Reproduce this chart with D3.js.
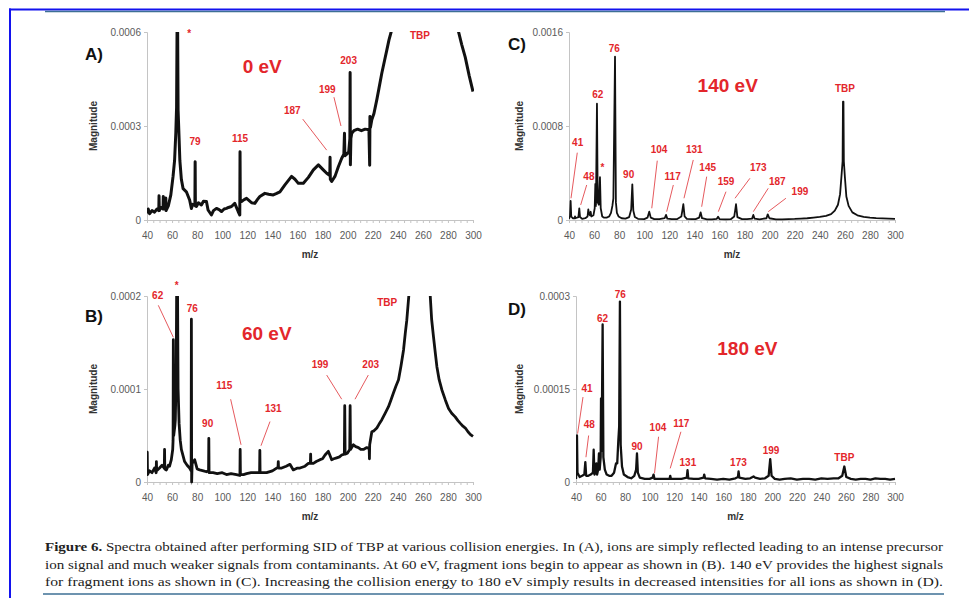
<!DOCTYPE html>
<html><head><meta charset="utf-8">
<script src="https://cdn.jsdelivr.net/npm/d3@7"></script>
<style>body{margin:0;background:#fff}svg{display:block}</style>
</head><body>
<svg id="c" width="969" height="598"></svg>
<script>
// ---------- DATA ----------
const mzTickLabels = [40,60,80,100,120,140,160,180,200,220,240,260,280,300];
const mzMinorTicks = d3.range(40, 301, 5);

const yTicksA = [0, 0.0003, 0.0006];
const yTicksB = [0, 0.0001, 0.0002];
const yTicksC = [0, 0.0008, 0.0016];
const yTicksD = [0, 0.00015, 0.0003];

// Spectrum A (0 eV): [m/z, magnitude]
const spectrumA = [
[40,0.21e-4],[41,0.35e-4],[42,0.2e-4],[44,0.3e-4],[46,0.25e-4],[48,0.35e-4],[49.4,0.3e-4],[49.6,0.77e-4],[49.8,0.3e-4],
[51,0.4e-4],[52.8,0.35e-4],[53,0.75e-4],[53.2,0.35e-4],[54.8,0.4e-4],[55,0.7e-4],[55.2,0.3e-4],[57,0.45e-4],[59,0.8e-4],
[60.8,1.4e-4],[62,1.9e-4],[63,2.8e-4],[63.6,3.6e-4],[64,6.3e-4],[64.4,6.3e-4],[64.8,3.5e-4],[65.6,2.6e-4],[66.2,1.9e-4],
[67.4,1.3e-4],[68.8,1.0e-4],[71.4,0.9e-4],[74,0.64e-4],[75.4,0.37e-4],[76.5,0.5e-4],[77.5,0.48e-4],[78.2,0.5e-4],
[78.4,1.86e-4],[78.6,0.45e-4],[79.4,0.43e-4],[81,0.55e-4],[83.4,0.48e-4],[85,0.6e-4],[87.4,0.59e-4],[88.7,0.32e-4],
[91.4,0.16e-4],[93,0.3e-4],[95.4,0.37e-4],[97.5,0.33e-4],[99.4,0.27e-4],[101.5,0.35e-4],[103.4,0.37e-4],[105,0.4e-4],
[107.4,0.43e-4],[110,0.53e-4],[112.7,0.27e-4],[114,0.16e-4],[114.2,2.18e-4],[114.4,0.59e-4],[115.4,0.59e-4],
[117.5,0.65e-4],[119.4,0.69e-4],[121.5,0.62e-4],[123.4,0.55e-4],[126,0.53e-4],[128,0.65e-4],[130,0.75e-4],[134,0.85e-4],
[137,0.82e-4],[140.7,0.8e-4],[143,0.84e-4],[146,0.9e-4],[150,1.12e-4],[155.3,1.39e-4],[158,1.3e-4],[160.7,1.17e-4],
[164.7,1.17e-4],[168.7,1.36e-4],[172.7,1.6e-4],[176.7,1.76e-4],[180.6,1.6e-4],[183.3,1.49e-4],[185.8,1.42e-4],
[186,2.0e-4],[186.2,1.3e-4],[187.3,1.23e-4],[190,1.4e-4],[192.6,1.7e-4],[195.3,1.97e-4],[197,2.1e-4],[197.5,2.77e-4],
[197.8,2.05e-4],[199.3,2.1e-4],[200.9,2.18e-4],[201.8,2.6e-4],[202,4.71e-4],[202.2,1.76e-4],[202.6,2.6e-4],
[203.3,2.77e-4],[205,2.85e-4],[208,2.9e-4],[211,2.85e-4],[214,2.9e-4],[217,2.88e-4],[217.6,1.75e-4],[217.8,3.3e-4],
[218.2,2.95e-4],[219.3,3.2e-4],[221,3.4e-4],[223.3,3.84e-4],[225,4.2e-4],[227.3,4.69e-4],[229.5,5.1e-4],[231.3,5.43e-4],
[233,5.75e-4],[234.7,6.0e-4],[237,6.8e-4],[245,12e-4],[255,40e-4],[260,60e-4],[265,40e-4],[280,10e-4],[286,6.8e-4],
[288.5,6.0e-4],[291,5.6e-4],[293.8,5.2e-4],[297,4.6e-4],[300,4.1e-4]
];

// Spectrum B (60 eV)
const spectrumB = [
[40,0.08e-4],[40.2,0.32e-4],[40.4,0.08e-4],[42,0.12e-4],[44,0.1e-4],[46,0.15e-4],[47.3,0.1e-4],[47.5,0.22e-4],[47.7,0.12e-4],
[50,0.15e-4],[52,0.18e-4],[53.8,0.15e-4],[54,0.35e-4],[54.2,0.14e-4],[55.5,0.13e-4],[57,0.18e-4],[58,0.17e-4],[59.4,0.24e-4],
[60.5,0.35e-4],[60.8,0.45e-4],[61,1.53e-4],[61.3,0.5e-4],[62.2,0.6e-4],[62.6,0.67e-4],[63.3,1.2e-4],[63.7,2.2e-4],
[64.3,2.2e-4],[64.8,1.0e-4],[65.6,0.63e-4],[66.5,0.45e-4],[67.4,0.35e-4],[70,0.22e-4],[72,0.18e-4],[74,0.15e-4],
[75.2,0.12e-4],[75.4,1.75e-4],[75.6,0],[76,0.2e-4],[78,0.24e-4],[80,0.14e-4],[82,0.13e-4],[85,0.12e-4],[87.4,0.11e-4],
[89.1,0.12e-4],[89.3,0.47e-4],[89.5,0.1e-4],[92.7,0.1e-4],[96,0.09e-4],[100,0.1e-4],[103.4,0.08e-4],[107,0.09e-4],
[111.4,0.08e-4],[114.1,0.07e-4],[114.3,0.35e-4],[114.5,0.08e-4],[117,0.08e-4],[119.4,0.09e-4],[123,0.1e-4],[127,0.1e-4],
[129.8,0.1e-4],[130,0.34e-4],[130.2,0.1e-4],[135.4,0.1e-4],[140,0.12e-4],[143.4,0.15e-4],[144.5,0.16e-4],[144.7,0.22e-4],
[144.9,0.15e-4],[147.4,0.15e-4],[151,0.17e-4],[154,0.19e-4],[156.7,0.13e-4],[160,0.15e-4],[162,0.15e-4],[166,0.17e-4],
[168.7,0.2e-4],[170.3,0.2e-4],[170.5,0.3e-4],[170.7,0.2e-4],[172.7,0.2e-4],[175,0.22e-4],[178,0.24e-4],[180,0.25e-4],
[182,0.29e-4],[184.6,0.33e-4],[187.3,0.24e-4],[189,0.25e-4],[191.3,0.26e-4],[193.5,0.27e-4],[195.3,0.29e-4],
[197.4,0.3e-4],[197.7,0.82e-4],[198,0.3e-4],[199.8,0.31e-4],[201.7,0.35e-4],[202,0.82e-4],[202.3,0.35e-4],
[204.6,0.4e-4],[206.5,0.38e-4],[208.6,0.37e-4],[210.5,0.35e-4],[212.6,0.35e-4],[215.3,0.37e-4],[217.2,0.36e-4],
[217.4,0.25e-4],[217.6,0.4e-4],[219.3,0.54e-4],[221,0.55e-4],[223.3,0.58e-4],[225,0.62e-4],[227.3,0.67e-4],[230,0.74e-4],
[232.6,0.81e-4],[234.5,0.88e-4],[236.6,0.96e-4],[238.5,1.03e-4],[240.6,1.1e-4],[242.6,1.25e-4],[244.6,1.42e-4],
[246,1.6e-4],[247.2,1.74e-4],[248.8,2.0e-4],[251,2.8e-4],[254,5e-4],[257.5,20e-4],[261,5e-4],[264,2.8e-4],[265.9,2.0e-4],
[267,1.75e-4],[268.5,1.56e-4],[270,1.38e-4],[271.2,1.24e-4],[273,1.1e-4],[275.2,0.99e-4],[278,0.88e-4],[280.5,0.79e-4],
[283,0.74e-4],[285.8,0.7e-4],[288,0.66e-4],[289.9,0.63e-4],[292,0.6e-4],[293.9,0.58e-4],[296,0.54e-4],[298,0.51e-4],
[300,0.49e-4]
];

// Spectrum C (140 eV)
const spectrumC = [
[40,0.1e-4],[40.8,0.3e-4],[41.3,1.62e-4],[41.8,0.3e-4],[43,0.15e-4],[44.6,0.15e-4],[44.8,0.3e-4],[45,0.15e-4],
[47.5,0.25e-4],[48.2,0.99e-4],[48.8,0.25e-4],[50.5,0.1e-4],[53,0.15e-4],[54.8,0.3e-4],[55.4,0.9e-4],[56,0.5e-4],
[56.8,0.4e-4],[57.3,0.7e-4],[57.8,0.3e-4],[59.5,0.4e-4],[60.5,1.0e-4],[61,3.07e-4],[61.5,1.2e-4],[62.3,9.9e-4],
[62.9,1.5e-4],[63.8,1.3e-4],[64.7,3.64e-4],[65.3,1.0e-4],[66.5,0.3e-4],[68,0.2e-4],[70,0.2e-4],[72,0.3e-4],[73.5,0.6e-4],
[74.6,1.2e-4],[75.4,1.85e-4],[76.7,13.9e-4],[77.4,1.5e-4],[78.2,0.6e-4],[79.5,0.3e-4],[82,0.15e-4],[85,0.12e-4],
[88,0.25e-4],[89.6,0.9e-4],[90.5,3.04e-4],[91.3,0.8e-4],[92.5,0.25e-4],[95,0.1e-4],[100,0.08e-4],[102.6,0.2e-4],
[104,0.71e-4],[105.2,0.2e-4],[108,0.07e-4],[112,0.07e-4],[116.3,0.15e-4],[117.4,0.43e-4],[118.4,0.12e-4],[122,0.07e-4],
[126,0.07e-4],[129.6,0.3e-4],[130.4,0.8e-4],[131.2,1.34e-4],[132.2,0.3e-4],[134,0.1e-4],[138,0.07e-4],[141,0.08e-4],
[143.8,0.2e-4],[145,0.65e-4],[146.1,0.15e-4],[150,0.06e-4],[154,0.06e-4],[157.9,0.1e-4],[158.9,0.28e-4],[160,0.08e-4],
[165,0.06e-4],[169,0.07e-4],[171.8,0.3e-4],[172.5,0.8e-4],[173.2,1.34e-4],[174.3,0.25e-4],[178,0.07e-4],[182,0.07e-4],
[186,0.12e-4],[187,0.43e-4],[188,0.12e-4],[192,0.06e-4],[197.5,0.15e-4],[198.5,0.48e-4],[199.8,0.15e-4],[205,0.06e-4],
[210,0.06e-4],[215,0.08e-4],[220,0.09e-4],[225,0.12e-4],[230,0.15e-4],[235,0.2e-4],[240,0.26e-4],[245,0.35e-4],
[249,0.5e-4],[252,0.8e-4],[254.5,1.3e-4],[256.2,2.2e-4],[257.5,4.0e-4],[258.2,5.0e-4],[258.5,10.07e-4],[258.9,10.07e-4],
[259.2,5.0e-4],[260,3.7e-4],[261.2,2.0e-4],[263,1.2e-4],[266,0.65e-4],[270,0.4e-4],[275,0.26e-4],[280,0.2e-4],
[285,0.16e-4],[290,0.14e-4],[295,0.12e-4],[300,0.1e-4]
];

// Spectrum D (180 eV)
const spectrumD = [
[40,0.05e-4],[40.5,0.2e-4],[40.8,0.75e-4],[41.2,0.15e-4],[43,0.08e-4],[45,0.1e-4],[46.8,0.12e-4],[47.6,0.32e-4],
[48.3,0.1e-4],[50,0.1e-4],[52,0.12e-4],[53.8,0.15e-4],[54.4,0.52e-4],[55,0.12e-4],[56,0.15e-4],[56.6,0.3e-4],
[57.2,0.12e-4],[58.1,0.2e-4],[58.7,0.46e-4],[59.3,0.2e-4],[60.1,0.4e-4],[60.4,1.35e-4],[60.9,0.5e-4],[61.7,2.54e-4],
[62.3,0.4e-4],[63.5,0.2e-4],[65,0.12e-4],[67,0.1e-4],[69,0.1e-4],[71,0.15e-4],[72.6,0.3e-4],[73.6,0.3e-4],[74.5,0.67e-4],
[75.2,0.9e-4],[75.8,2.91e-4],[76.4,0.6e-4],[77.5,0.25e-4],[79,0.12e-4],[82,0.08e-4],[85,0.06e-4],[87.5,0.1e-4],
[89,0.2e-4],[89.7,0.46e-4],[90.4,0.15e-4],[92,0.07e-4],[96,0.05e-4],[100,0.05e-4],[102.5,0.07e-4],[103.2,0.12e-4],
[104,0.05e-4],[110,0.05e-4],[116.2,0.05e-4],[116.8,0.1e-4],[117.4,0.05e-4],[122,0.05e-4],[126,0.05e-4],[130.3,0.07e-4],
[130.9,0.19e-4],[131.5,0.06e-4],[136,0.05e-4],[140,0.05e-4],[144,0.07e-4],[144.5,0.12e-4],[145.2,0.06e-4],[150,0.05e-4],
[155,0.04e-4],[160,0.05e-4],[165,0.04e-4],[170,0.06e-4],[172,0.08e-4],[172.5,0.17e-4],[173.1,0.07e-4],[178,0.05e-4],
[182,0.06e-4],[184.7,0.09e-4],[186,0.07e-4],[190,0.05e-4],[194,0.06e-4],[197,0.1e-4],[198.3,0.37e-4],[199.4,0.1e-4],
[202,0.05e-4],[206,0.04e-4],[210,0.05e-4],[215,0.06e-4],[220,0.04e-4],[225,0.05e-4],[230,0.05e-4],[235,0.04e-4],
[240,0.06e-4],[245,0.05e-4],[250,0.06e-4],[254,0.06e-4],[257,0.1e-4],[258.7,0.25e-4],[260.3,0.08e-4],[264,0.05e-4],
[268,0.04e-4],[272,0.05e-4],[276,0.05e-4],[280,0.04e-4],[284,0.06e-4],[288,0.05e-4],[292,0.05e-4],[296,0.04e-4],
[300,0.05e-4]
];

// Peak annotations: [text, m/z, magnitude, (leader from m/z, mag, to m/z, mag)]
const labelsA = [
["*",73.7,6.01e-4],["79",78.3,2.50e-4],["115",114.2,2.61e-4],
["187",155.9,3.49e-4,164.2,3.22e-4,183.3,2.23e-4],
["199",183.8,4.17e-4,189.1,3.92e-4,194.7,3.0e-4],
["203",200.8,5.1e-4],["TBP",257.7,5.9e-4]
];
const labelsB = [
["*",63.7,2.13e-4],["62",48.5,2.01e-4,49.0,1.90e-4,61.0,1.556e-4],["76",76.1,1.87e-4],["90",88.4,0.63e-4],
["115",101.6,1.04e-4,106.7,0.89e-4,115.0,0.40e-4],["131",140.7,0.79e-4,138.1,0.65e-4,130.9,0.39e-4],
["199",178.0,1.26e-4,183.3,1.15e-4,195.3,0.89e-4],["203",218.4,1.26e-4,216.5,1.15e-4,205.9,0.89e-4],
["TBP",231.6,1.93e-4]
];
const labelsC = [
["76",76.1,14.61e-4],["62",62.9,10.64e-4],["41",46.9,6.61e-4,46.6,5.73e-4,41.6,1.85e-4],
["48",55.9,3.74e-4,54.1,2.98e-4,49.3,1.28e-4],["*",66.6,4.62e-4],["90",87.6,3.89e-4],
["104",111.8,5.96e-4,110.4,5.05e-4,106.0,1.0e-4],["117",122.7,3.74e-4,123.2,2.98e-4,117.9,0.71e-4],
["131",139.9,5.96e-4,139.1,5.11e-4,131.7,1.85e-4],["145",150.6,4.51e-4,149.8,3.69e-4,145.8,1.13e-4],
["159",165.2,3.29e-4,165.2,2.41e-4,159.1,0.71e-4],["173",191.0,4.51e-4,184.3,3.55e-4,172.4,1.85e-4],
["187",206.1,3.29e-4,198.9,2.7e-4,187.0,0.71e-4],["199",224.2,2.41e-4,213.0,1.85e-4,198.9,0.71e-4],
["TBP",260.1,11.21e-4]
];
const labelsD = [
["76",76.1,3.02e-4],["62",61.7,2.64e-4],["41",49.0,1.51e-4,45.7,1.37e-4,41.3,0.78e-4],
["48",50.8,0.92e-4,50.3,0.75e-4,48.1,0.40e-4],["90",89.7,0.58e-4],
["104",106.8,0.88e-4,107.3,0.73e-4,104.0,0.14e-4],["117",125.8,0.94e-4,125.5,0.81e-4,116.8,0.22e-4],
["131",131.2,0.32e-4],["173",172.4,0.31e-4],["199",199.0,0.51e-4],["TBP",258.7,0.39e-4]
];

const energies = ["0 eV","60 eV","140 eV","180 eV"];
const energyPos = [[131.9,4.89e-4],[135.5,1.6e-4],[166.6,11.49e-4],[179.7,2.16e-4]];
const panelLetters = ["A)","B)","C)","D)"];

const captionBold = "Figure 6.";
const captionLines = [
" Spectra obtained after performing SID of TBP at various collision energies. In (A), ions are simply reflected leading to an intense precursor",
"ion signal and much weaker signals from contaminants. At 60 eV, fragment ions begin to appear as shown in (B). 140 eV provides the highest signals",
"for fragment ions as shown in (C). Increasing the collision energy to 180 eV simply results in decreased intensities for all ions as shown in (D)."
];

// ---------- LAYOUT ----------
const panels = [
 {id:"A", data:spectrumA, yTicks:yTicksA, labels:labelsA, left:147, right:473, top:32, bottom:220, sw:3.0, letter:[85,60], ylab:93},
 {id:"B", data:spectrumB, yTicks:yTicksB, labels:labelsB, left:147, right:473, top:296, bottom:482, sw:2.8, letter:[85,322], ylab:93},
 {id:"C", data:spectrumC, yTicks:yTicksC, labels:labelsC, left:569, right:895, top:32, bottom:220, sw:1.8, letter:[508,50], ylab:519},
 {id:"D", data:spectrumD, yTicks:yTicksD, labels:labelsD, left:576, right:895, top:296, bottom:482, sw:2.3, letter:[508,315], ylab:519}
];

const FONT = "'Liberation Sans', Arial, sans-serif";
const RED = "#e3262b";
const svg = d3.select("#c");
const defs = svg.append("defs");

// frame
svg.append("rect").attr("x",9).attr("y",8.5).attr("width",960).attr("height",2).attr("fill","#1313ee");
svg.append("rect").attr("x",9).attr("y",8.5).attr("width",2).attr("height",590).attr("fill","#1313ee");
svg.append("line").attr("x1",45).attr("x2",945).attr("y1",11.5).attr("y2",11.5).attr("stroke","#3d6f95").attr("stroke-width",1.4);
svg.append("line").attr("x1",43).attr("x2",944).attr("y1",594).attr("y2",594).attr("stroke","#3d6f95").attr("stroke-width",1.4);

const fmt = v => v === 0 ? "0" : String(+v.toFixed(6));

panels.forEach((p, i) => {
  const x = d3.scaleLinear().domain([40,300]).range([p.left, p.right]);
  const y = d3.scaleLinear().domain([0, p.yTicks[p.yTicks.length-1]]).range([p.bottom, p.top]);
  const g = svg.append("g");
  const cid = "clip" + p.id;
  defs.append("clipPath").attr("id", cid).append("rect")
    .attr("x", p.left).attr("y", p.top).attr("width", p.right - p.left + 1).attr("height", p.bottom - p.top + 2);

  // x axis
  const xa = g.append("g").attr("transform", `translate(0,${p.bottom})`)
    .call(d3.axisBottom(x).tickValues(mzMinorTicks).tickSize(3).tickPadding(9)
      .tickFormat(d => mzTickLabels.includes(d) ? d : ""));
  // y axis
  const ya = g.append("g").attr("transform", `translate(${p.left},0)`)
    .call(d3.axisLeft(y).tickValues(p.yTicks).tickSize(3).tickPadding(3).tickFormat(fmt));
  [xa, ya].forEach(a => {
    a.select(".domain").attr("stroke", "#c4c4c4");
    a.selectAll(".tick line").attr("stroke", "#c4c4c4");
    a.selectAll("text").attr("fill", "#5a5a5a").style("font-family", FONT).style("font-size", "10px");
  });

  // axis titles
  g.append("text").attr("x", (p.left + p.right) / 2).attr("y", p.bottom + 38)
    .attr("text-anchor", "middle").style("font-family", FONT).style("font-size", "10px")
    .style("font-weight", "bold").attr("fill", "#333").text("m/z");
  g.append("text").attr("transform", `translate(${p.ylab},${(p.top + p.bottom) / 2}) rotate(-90)`)
    .attr("text-anchor", "middle").attr("dominant-baseline", "central").style("font-family", FONT)
    .style("font-size", "10px").style("font-weight", "bold").attr("fill", "#333").text("Magnitude");

  // spectrum
  g.append("path").datum(p.data).attr("clip-path", `url(#${cid})`)
    .attr("d", d3.line().x(d => x(d[0])).y(d => y(d[1])))
    .attr("fill", "none").attr("stroke", "#111").attr("stroke-width", p.sw)
    .attr("stroke-linejoin", "round");

  // annotations
  p.labels.forEach(l => {
    if (l.length > 3) {
      g.append("line").attr("x1", x(l[3])).attr("y1", y(l[4])).attr("x2", x(l[5])).attr("y2", y(l[6]))
        .attr("stroke", "#e65a5e").attr("stroke-width", 1);
    }
    g.append("text").attr("x", x(l[1])).attr("y", y(l[2]))
      .attr("dy", l[0] === "*" ? "0.55em" : "0.35em")
      .attr("text-anchor", "middle").style("font-family", FONT)
      .style("font-size", "10px").style("font-weight", "bold").attr("fill", RED).text(l[0]);
  });

  // energy label
  g.append("text").attr("x", x(energyPos[i][0])).attr("y", y(energyPos[i][1])).attr("dy", "0.35em")
    .attr("text-anchor", "middle").style("font-family", FONT).style("font-size", "19px")
    .style("font-weight", "bold").attr("fill", RED).text(energies[i]);

  // panel letter
  g.append("text").attr("x", p.letter[0]).attr("y", p.letter[1]).style("font-family", FONT)
    .style("font-size", "17px").style("font-weight", "bold").attr("fill", "#111").text(panelLetters[i]);
});

// caption, stretched to full justified width
const capLeft = 45, capRight = 943, capY = [551, 569, 586];
captionLines.forEach((line, li) => {
  const t = svg.append("text").attr("x", capLeft).attr("y", capY[li]).attr("xml:space", "preserve")
    .style("font-family", "'Liberation Serif', 'Times New Roman', serif").style("font-size", "13px")
    .attr("fill", "#222");
  if (li === 0) t.append("tspan").style("font-weight", "bold").text(captionBold);
  t.append("tspan").text(line);
  t.attr("textLength", capRight - capLeft).attr("lengthAdjust", "spacingAndGlyphs");
});
</script>
</body></html>
